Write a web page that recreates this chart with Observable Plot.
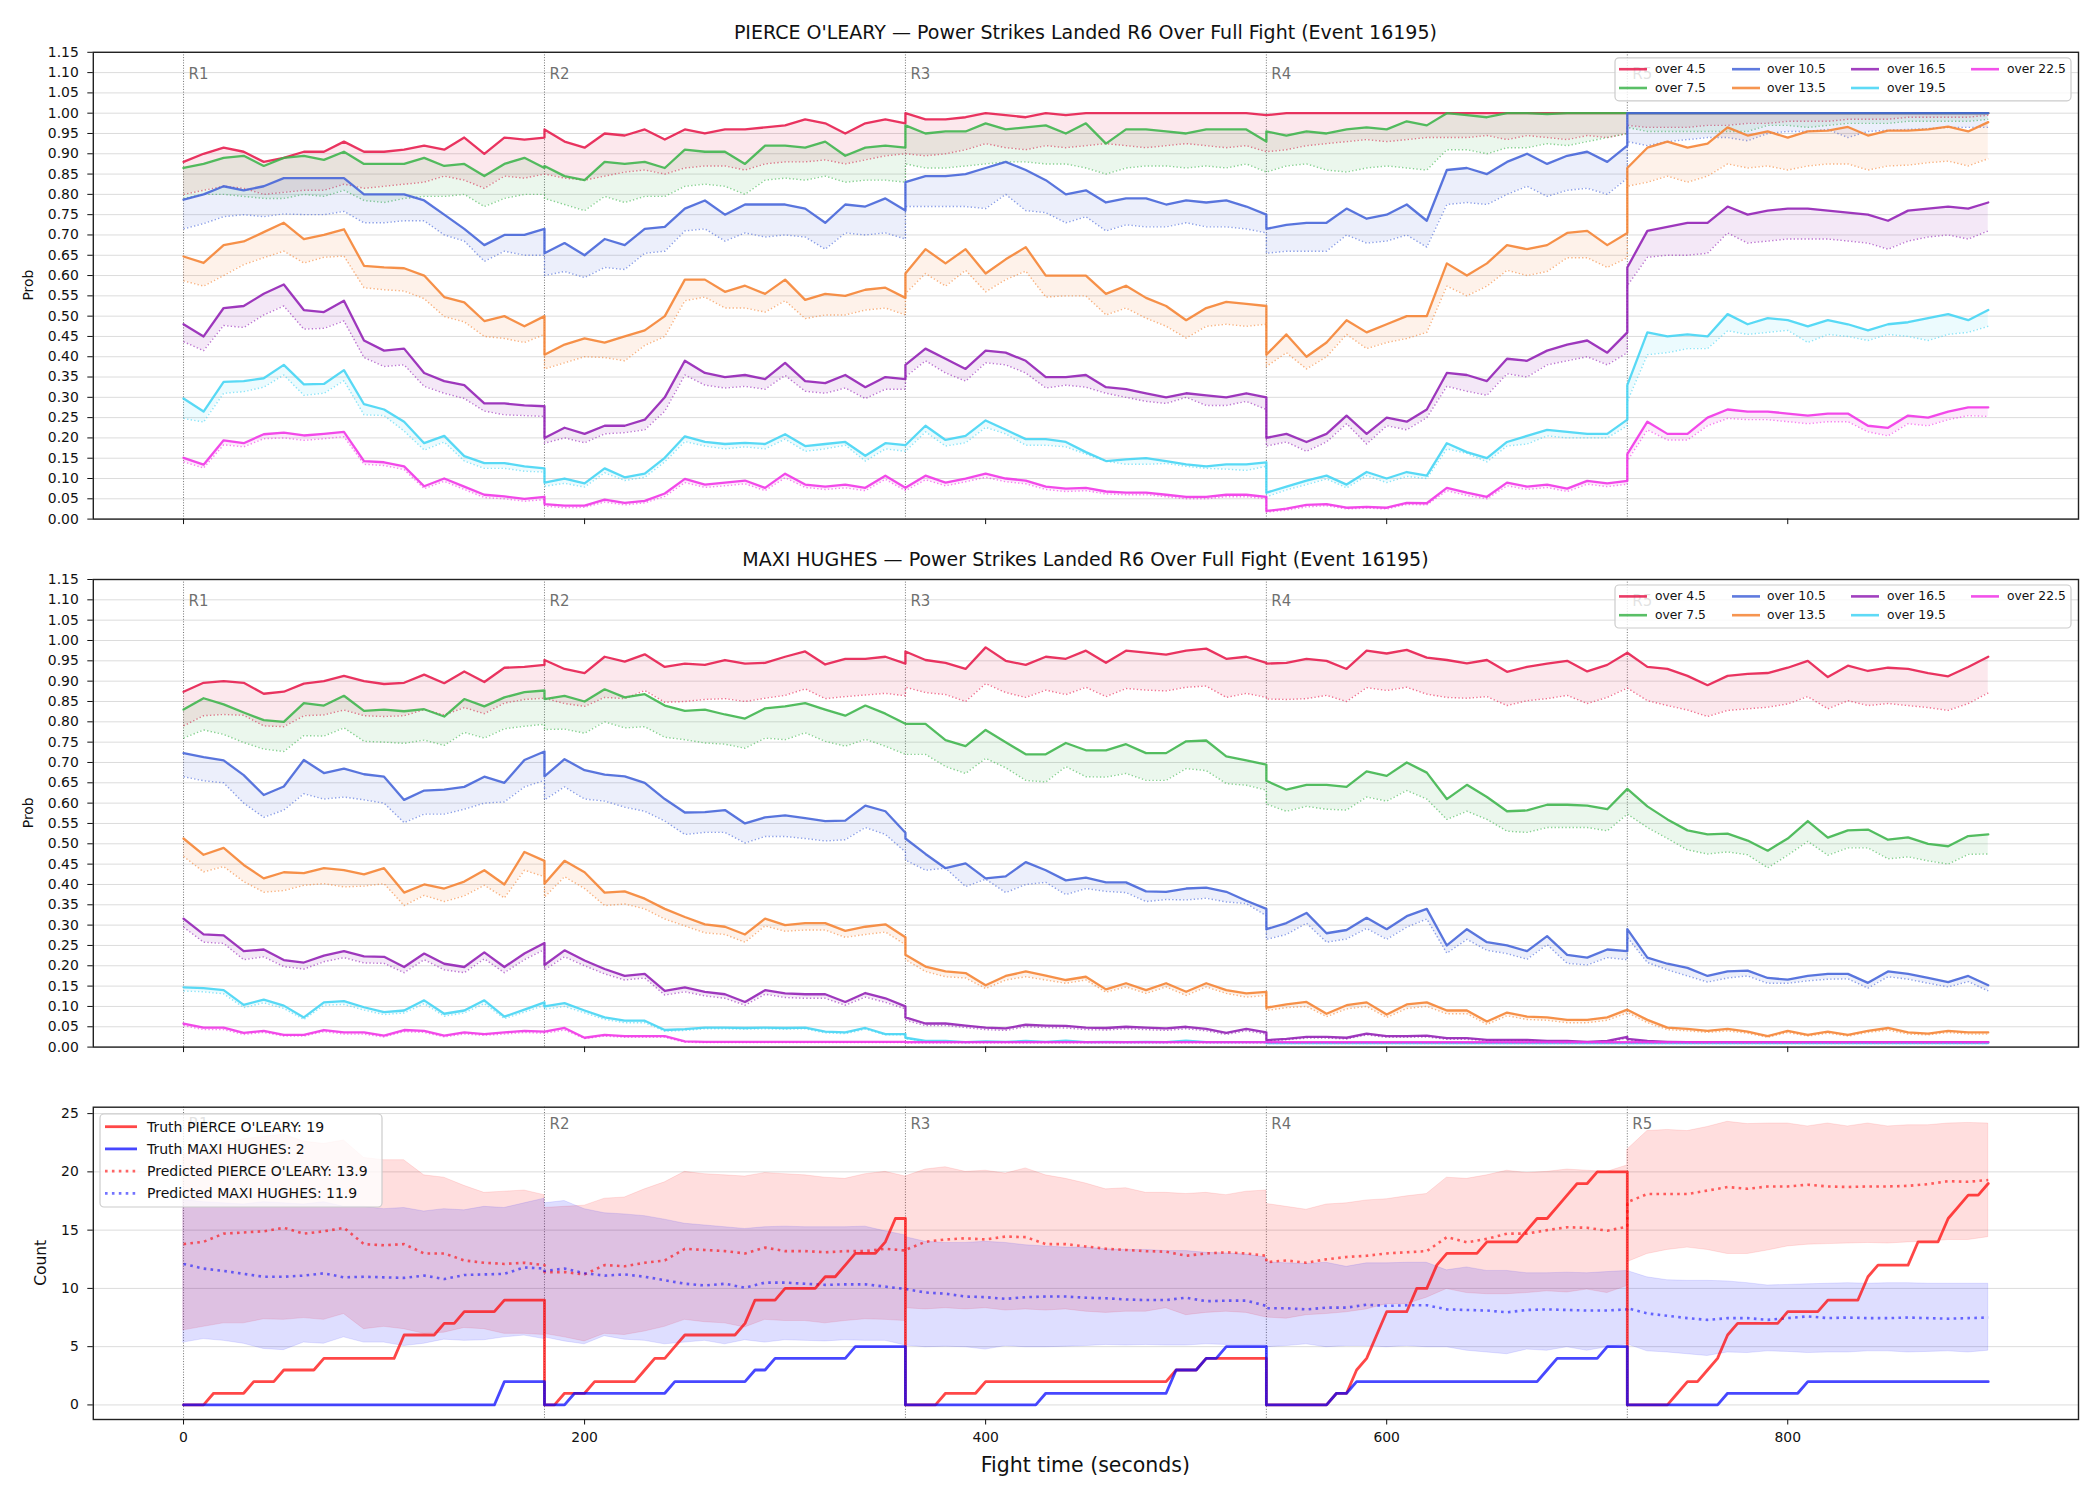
<!DOCTYPE html>
<html>
<head>
<meta charset="utf-8">
<script src="https://cdn.jsdelivr.net/npm/d3@7"></script>
<script src="https://cdn.jsdelivr.net/npm/@observablehq/plot@0.6"></script>
<style>
  body { margin: 0; background: #fff; }
  #chart { position: relative; width: 2100px; height: 1500px; font-family: "DejaVu Sans", sans-serif; }
  #chart svg { position: absolute; left: 0; }
</style>
</head>
<body>
<div id="chart"></div>
<script>
// ---------- categories, ticks, colours ----------
const roundStarts = [0, 180, 360, 540, 720];
const roundLabels = ["R1", "R2", "R3", "R4", "R5"];
const thresholds = ["over 4.5", "over 7.5", "over 10.5", "over 13.5", "over 16.5", "over 19.5", "over 22.5"];
const thresholdColors = ["#e6194b", "#3cb44b", "#4363d8", "#f58231", "#911eb4", "#42d4f4", "#f032e6"];
const timeTicks = [0, 200, 400, 600, 800];
const probTicks = [0, 0.05, 0.1, 0.15, 0.2, 0.25, 0.3, 0.35, 0.4, 0.45, 0.5, 0.55, 0.6, 0.65, 0.7, 0.75, 0.8, 0.85, 0.9, 0.95, 1, 1.05, 1.1, 1.15];
const countTicks = [0, 5, 10, 15, 20, 25];

// Sampling grids: every round is sampled from its first to its last second,
// so each round boundary appears twice (end of one round, start of the next).
const tenSecondGrid = roundStarts.flatMap(r => d3.range(0, 181, 10).map(s => r + s));
const fiveSecondGrid = roundStarts.flatMap(r => d3.range(0, 181, 5).map(s => r + s));

// ---------- PIERCE O'LEARY: live probabilities (solid) and pre-fight model (dotted) ----------
const olearyOver4_5 = [
 .88,.90,.915,.905,.88,.89,.905,.905,.93,.905,.905,.91,.92,.91,.94,.90,.94,.935,.94,
 .96,.93,.915,.95,.945,.96,.935,.96,.95,.96,.96,.965,.97,.985,.975,.95,.975,.985,.975,
 1,.985,.985,.99,1,.995,.99,1,.995,1,1,1,1,1,1,1,1,1,.995,
 .995,1,1,1,1,1,1,1,1,1,1,1,1,1,1,1,1,1,1,
 1,1,1,1,1,1,1,1,1,1,1,1,1,1,1,1,1,1,1];
const olearyOver4_5Pred = [
 .80,.81,.82,.815,.80,.805,.81,.81,.825,.815,.82,.825,.83,.845,.835,.815,.845,.84,.85,
 .85,.84,.835,.845,.855,.86,.85,.865,.87,.87,.86,.875,.88,.88,.885,.875,.885,.895,.90,
 .90,.895,.90,.91,.925,.915,.91,.92,.915,.92,.925,.92,.915,.92,.925,.92,.915,.92,.905,
 .905,.91,.92,.925,.93,.935,.93,.935,.94,.94,.94,.945,.935,.945,.94,.935,.945,.94,.95,
 .97,.965,.965,.965,.97,.97,.975,.975,.98,.98,.98,.985,.985,.985,.99,.99,.99,.99,.995];
const olearyOver7_5 = [
 .865,.875,.89,.895,.87,.89,.895,.885,.905,.875,.875,.875,.89,.87,.875,.845,.875,.89,.865,
 .87,.845,.835,.88,.875,.88,.865,.91,.905,.905,.875,.92,.92,.915,.93,.895,.915,.92,.915,
 .97,.95,.955,.955,.975,.96,.965,.97,.95,.975,.925,.96,.96,.955,.95,.96,.96,.96,.93,
 .955,.945,.955,.95,.96,.965,.96,.98,.97,1,.995,.99,1,1,.998,1,1,1,1,
 1,1,1,1,1,1,1,1,1,1,1,1,1,1,1,1,1,1,1];
const olearyOver7_5Pred = [
 .79,.80,.80,.795,.79,.79,.80,.795,.81,.785,.78,.79,.795,.795,.80,.77,.79,.80,.80,
 .79,.775,.76,.795,.78,.795,.795,.82,.825,.82,.80,.835,.84,.835,.845,.83,.835,.835,.83,
 .875,.865,.865,.87,.875,.88,.88,.875,.875,.865,.85,.865,.87,.87,.865,.87,.865,.875,.855,
 .855,.87,.875,.86,.855,.865,.87,.865,.86,.91,.91,.90,.915,.915,.925,.92,.93,.94,.95,
 .965,.955,.955,.955,.955,.955,.955,.97,.97,.965,.97,.975,.975,.975,.98,.98,.98,.98,.985];
const olearyOver10_5 = [
 .787,.80,.82,.81,.82,.84,.84,.84,.84,.80,.80,.80,.785,.75,.715,.675,.70,.70,.715,
 .655,.68,.65,.69,.675,.715,.72,.765,.785,.75,.775,.775,.775,.765,.73,.775,.77,.79,.76,
 .83,.845,.845,.85,.865,.88,.86,.835,.80,.81,.78,.79,.79,.775,.785,.78,.785,.77,.75,
 .715,.725,.73,.73,.765,.74,.75,.775,.735,.86,.865,.85,.88,.90,.875,.895,.905,.88,.92,
 1,1,1,1,1,1,1,1,1,1,1,1,1,1,1,1,1,1,1];
const olearyOver10_5Pred = [
 .715,.728,.745,.75,.745,.752,.75,.75,.758,.73,.73,.735,.735,.70,.685,.635,.66,.65,.65,
 .60,.61,.595,.62,.615,.655,.66,.71,.715,.685,.705,.695,.70,.695,.665,.705,.70,.705,.69,
 .77,.77,.77,.77,.765,.80,.76,.755,.73,.745,.71,.725,.72,.72,.73,.72,.72,.715,.705,
 .655,.66,.66,.66,.70,.68,.685,.70,.67,.775,.78,.775,.80,.82,.795,.81,.815,.80,.84,
 .93,.92,.93,.935,.94,.94,.932,.95,.955,.955,.96,.94,.955,.958,.96,.962,.965,.965,.965];
const olearyOver13_5 = [
 .647,.631,.675,.684,.707,.73,.69,.70,.714,.624,.62,.618,.60,.547,.534,.488,.50,.475,.50,
 .405,.43,.445,.435,.45,.465,.50,.59,.59,.56,.575,.555,.59,.54,.555,.55,.565,.57,.545,
 .605,.665,.63,.665,.605,.64,.67,.60,.60,.60,.555,.575,.545,.525,.49,.52,.535,.53,.525,
 .405,.455,.40,.435,.49,.46,.48,.50,.50,.63,.60,.63,.675,.665,.675,.705,.71,.675,.705,
 .865,.915,.93,.915,.925,.965,.945,.955,.94,.955,.957,.966,.945,.957,.957,.96,.967,.955,.978];
const olearyOver13_5Pred = [
 .587,.574,.60,.627,.644,.66,.631,.645,.648,.57,.565,.562,.543,.499,.486,.45,.445,.435,.455,
 .37,.385,.40,.398,.39,.428,.45,.538,.547,.52,.52,.51,.538,.494,.503,.503,.515,.52,.503,
 .556,.605,.574,.613,.56,.59,.611,.547,.55,.55,.503,.52,.495,.475,.446,.475,.48,.475,.48,
 .376,.41,.37,.40,.455,.42,.435,.445,.46,.574,.55,.574,.613,.60,.61,.644,.644,.62,.644,
 .82,.83,.845,.83,.845,.875,.865,.87,.86,.87,.875,.875,.86,.87,.872,.878,.882,.87,.888];
const olearyOver16_5 = [
 .48,.45,.52,.525,.555,.578,.515,.51,.538,.44,.415,.42,.36,.34,.33,.285,.285,.28,.278,
 .20,.225,.21,.23,.23,.245,.30,.39,.36,.35,.355,.345,.385,.34,.335,.355,.325,.35,.345,
 .38,.42,.395,.37,.415,.41,.39,.35,.35,.355,.325,.32,.31,.30,.31,.305,.30,.31,.30,
 .20,.21,.19,.21,.255,.21,.25,.24,.27,.36,.355,.34,.395,.39,.415,.43,.44,.41,.46,
 .62,.71,.72,.73,.73,.77,.75,.76,.765,.765,.76,.755,.75,.735,.76,.765,.77,.765,.78];
const olearyOver16_5Pred = [
 .437,.415,.477,.472,.503,.525,.468,.47,.488,.398,.376,.38,.327,.31,.297,.266,.257,.255,.253,
 .187,.20,.188,.21,.213,.22,.266,.355,.33,.323,.327,.32,.354,.315,.31,.323,.297,.32,.32,
 .35,.39,.36,.34,.385,.38,.36,.323,.33,.325,.31,.30,.29,.285,.30,.28,.28,.29,.27,
 .18,.19,.167,.19,.235,.185,.23,.22,.25,.327,.315,.305,.358,.35,.38,.39,.40,.38,.41,
 .575,.645,.65,.65,.655,.705,.68,.685,.69,.69,.69,.685,.68,.665,.685,.695,.70,.69,.71];
const olearyOver19_5 = [
 .297,.265,.338,.34,.347,.38,.332,.333,.367,.283,.27,.24,.187,.205,.155,.138,.138,.13,.125,
 .09,.10,.088,.125,.103,.112,.151,.204,.19,.185,.188,.185,.209,.18,.185,.19,.156,.187,.182,
 .182,.23,.195,.205,.243,.22,.197,.197,.19,.165,.143,.147,.15,.143,.135,.13,.135,.135,.14,
 .065,.08,.095,.107,.085,.116,.10,.116,.107,.187,.165,.15,.19,.205,.22,.215,.21,.21,.245,
 .33,.46,.45,.455,.45,.505,.48,.495,.49,.475,.49,.48,.465,.48,.485,.495,.505,.49,.515];
const olearyOver19_5Pred = [
 .248,.239,.31,.314,.325,.355,.305,.31,.341,.257,.255,.217,.17,.19,.143,.125,.125,.118,.116,
 .081,.088,.079,.114,.095,.103,.141,.191,.18,.173,.178,.173,.197,.167,.173,.182,.143,.173,.167,
 .167,.215,.18,.188,.226,.21,.182,.182,.178,.16,.143,.135,.135,.137,.13,.125,.123,.12,.13,
 .055,.072,.085,.099,.077,.107,.09,.105,.10,.173,.162,.141,.18,.185,.205,.20,.20,.20,.23,
 .29,.405,.41,.42,.42,.464,.455,.46,.465,.435,.455,.45,.44,.455,.45,.44,.455,.46,.475];
const olearyOver22_5 = [
 .151,.134,.194,.187,.209,.213,.206,.21,.215,.143,.14,.13,.081,.10,.08,.06,.056,.05,.055,
 .037,.033,.033,.048,.04,.045,.063,.099,.085,.09,.095,.077,.112,.085,.08,.085,.077,.107,.077,
 .077,.107,.09,.10,.112,.10,.095,.08,.075,.077,.068,.065,.065,.06,.055,.055,.06,.06,.055,
 .02,.026,.035,.037,.028,.03,.028,.04,.039,.077,.065,.055,.09,.08,.085,.075,.094,.088,.094,
 .16,.24,.21,.21,.25,.27,.265,.265,.26,.255,.26,.26,.23,.225,.255,.25,.265,.275,.275];
const olearyOver22_5Pred = [
 .141,.126,.183,.178,.198,.20,.194,.198,.203,.135,.132,.122,.075,.093,.073,.053,.05,.044,.048,
 .032,.028,.029,.042,.035,.04,.056,.09,.078,.082,.087,.07,.102,.078,.073,.077,.07,.098,.07,
 .07,.097,.082,.092,.103,.092,.087,.073,.068,.07,.062,.06,.06,.055,.05,.05,.055,.055,.05,
 .017,.022,.03,.033,.025,.027,.025,.036,.035,.07,.058,.05,.082,.073,.078,.068,.086,.08,.086,
 .143,.22,.195,.195,.23,.248,.245,.245,.24,.235,.24,.24,.215,.205,.235,.23,.245,.255,.253];

// ---------- MAXI HUGHES: live probabilities (solid) and pre-fight model (dotted) ----------
const hughesOver4_5 = [
 .874,.896,.90,.896,.869,.874,.894,.90,.913,.90,.893,.896,.916,.895,.924,.898,.933,.935,.94,
 .952,.93,.92,.96,.948,.966,.935,.943,.94,.952,.943,.945,.96,.973,.941,.955,.955,.96,.943,
 .973,.952,.945,.93,.983,.95,.94,.96,.955,.975,.945,.975,.97,.965,.975,.98,.955,.96,.945,
 .943,.945,.955,.95,.93,.975,.968,.977,.958,.952,.944,.952,.923,.935,.943,.95,.924,.94,.97,
 .97,.935,.93,.913,.89,.913,.918,.92,.933,.95,.91,.938,.925,.933,.93,.92,.912,.935,.96];
const hughesOver4_5Pred = [
 .79,.815,.818,.816,.79,.788,.815,.817,.829,.815,.813,.815,.83,.817,.835,.82,.846,.855,.858,
 .858,.845,.838,.86,.857,.877,.848,.85,.855,.857,.85,.858,.865,.881,.857,.862,.866,.87,.864,
 .885,.872,.867,.85,.894,.872,.86,.878,.867,.885,.862,.882,.878,.876,.885,.888,.86,.87,.86,
 .856,.855,.857,.865,.85,.884,.877,.885,.868,.86,.858,.862,.84,.852,.857,.865,.845,.86,.883,
 .883,.852,.84,.829,.813,.828,.832,.836,.844,.862,.832,.852,.84,.845,.84,.835,.828,.845,.871];
const hughesOver7_5 = [
 .83,.858,.843,.823,.804,.80,.846,.84,.864,.827,.83,.826,.831,.813,.856,.838,.86,.873,.877,
 .856,.864,.85,.88,.86,.868,.84,.827,.83,.818,.808,.833,.838,.846,.83,.815,.84,.82,.795,
 .795,.795,.755,.74,.78,.75,.72,.72,.748,.73,.73,.745,.723,.723,.752,.754,.715,.705,.695,
 .655,.633,.645,.645,.64,.678,.667,.70,.675,.61,.645,.615,.58,.582,.596,.596,.594,.585,.635,
 .635,.592,.56,.533,.523,.525,.508,.483,.513,.556,.515,.533,.535,.51,.516,.50,.494,.519,.523];
const hughesOver7_5Pred = [
 .76,.78,.769,.749,.733,.727,.766,.765,.785,.752,.75,.747,.755,.742,.774,.76,.783,.789,.794,
 .781,.782,.772,.80,.785,.788,.762,.756,.748,.745,.735,.76,.756,.773,.752,.74,.757,.74,.72,
 .72,.72,.69,.673,.71,.687,.656,.652,.69,.665,.664,.673,.656,.656,.685,.68,.648,.644,.632,
 .598,.58,.592,.585,.583,.615,.605,.631,.61,.56,.58,.56,.531,.528,.54,.54,.54,.532,.573,
 .573,.54,.513,.485,.475,.48,.473,.441,.472,.506,.472,.49,.49,.463,.468,.458,.45,.474,.475];
const hughesOver10_5 = [
 .723,.713,.705,.669,.62,.641,.706,.674,.685,.671,.665,.608,.631,.633,.64,.665,.65,.706,.727,
 .666,.708,.681,.67,.666,.65,.61,.577,.578,.583,.55,.565,.57,.563,.556,.557,.594,.58,.527,
 .513,.475,.44,.452,.415,.42,.455,.435,.41,.417,.405,.405,.383,.382,.39,.392,.382,.36,.34,
 .29,.305,.33,.28,.288,.318,.29,.322,.34,.25,.29,.258,.25,.236,.273,.227,.22,.24,.236,
 .29,.22,.205,.195,.175,.186,.188,.17,.166,.175,.18,.18,.158,.186,.18,.17,.16,.175,.152];
const hughesOver10_5Pred = [
 .665,.655,.65,.60,.565,.583,.623,.61,.615,.608,.60,.552,.573,.573,.585,.60,.603,.64,.656,
 .608,.64,.61,.605,.59,.58,.556,.523,.528,.528,.502,.518,.518,.513,.507,.51,.54,.523,.48,
 .46,.435,.44,.395,.413,.38,.40,.405,.375,.39,.383,.38,.358,.363,.362,.366,.357,.353,.323,
 .265,.277,.305,.258,.266,.292,.265,.295,.315,.231,.265,.238,.23,.216,.252,.206,.202,.22,.215,
 .27,.208,.19,.175,.16,.17,.175,.157,.157,.163,.167,.168,.145,.173,.167,.157,.148,.161,.138];
const hughesOver13_5 = [
 .513,.473,.49,.448,.415,.43,.428,.44,.435,.425,.44,.38,.40,.39,.407,.435,.40,.48,.458,
 .402,.458,.43,.38,.383,.365,.34,.32,.302,.296,.277,.316,.30,.305,.305,.286,.296,.302,.27,
 .227,.198,.186,.182,.152,.175,.186,.176,.165,.173,.142,.157,.14,.157,.136,.157,.14,.132,.136,
 .097,.105,.111,.082,.103,.11,.08,.105,.11,.09,.09,.063,.085,.075,.073,.067,.067,.073,.092,
 .092,.067,.048,.045,.04,.045,.038,.027,.04,.03,.038,.03,.04,.047,.036,.033,.04,.036,.036];
const hughesOver13_5Pred = [
 .469,.431,.444,.407,.381,.385,.398,.402,.394,.396,.402,.348,.373,.358,.372,.398,.367,.435,.419,
 .369,.419,.39,.348,.352,.34,.315,.298,.281,.277,.258,.298,.285,.288,.288,.27,.277,.283,.252,
 .215,.186,.173,.17,.144,.165,.173,.165,.157,.165,.135,.148,.132,.148,.127,.148,.132,.123,.127,
 .09,.097,.10,.075,.094,.10,.073,.095,.10,.082,.082,.056,.077,.068,.066,.06,.06,.066,.084,
 .085,.06,.043,.04,.036,.04,.034,.024,.036,.027,.034,.027,.036,.042,.032,.03,.036,.032,.032];
const hughesOver16_5 = [
 .316,.277,.275,.236,.24,.214,.208,.225,.236,.223,.222,.197,.23,.205,.197,.233,.197,.23,.256,
 .202,.238,.213,.192,.175,.18,.138,.147,.136,.13,.111,.14,.132,.13,.13,.111,.133,.12,.10,
 .073,.058,.058,.053,.048,.046,.055,.053,.052,.048,.047,.05,.048,.046,.05,.045,.035,.045,.036,
 .017,.02,.025,.025,.023,.033,.027,.027,.028,.022,.022,.018,.018,.018,.015,.015,.013,.015,.025,
 .02,.015,.013,.012,.012,.012,.012,.012,.012,.012,.012,.012,.012,.012,.012,.012,.012,.012,.012];
const hughesOver16_5Pred = [
 .295,.258,.255,.215,.222,.198,.192,.21,.22,.207,.206,.183,.215,.19,.183,.217,.183,.215,.24,
 .19,.222,.20,.18,.165,.17,.128,.136,.126,.12,.103,.13,.122,.12,.12,.103,.123,.11,.094,
 .066,.053,.053,.048,.043,.041,.05,.048,.047,.043,.042,.045,.043,.041,.045,.04,.031,.04,.032,
 .015,.018,.022,.022,.02,.03,.024,.024,.025,.019,.019,.016,.016,.016,.013,.013,.011,.013,.022,
 .018,.013,.011,.01,.01,.01,.01,.01,.01,.01,.01,.01,.01,.01,.01,.01,.01,.01,.01];
const hughesOver19_5 = [
 .147,.145,.14,.104,.117,.102,.073,.11,.113,.098,.086,.09,.115,.082,.09,.115,.075,.092,.11,
 .10,.108,.09,.073,.065,.065,.042,.044,.048,.048,.047,.048,.047,.048,.038,.036,.047,.032,.032,
 .023,.015,.015,.012,.014,.013,.015,.013,.016,.012,.013,.012,.013,.012,.016,.012,.012,.012,.012,
 .01,.01,.01,.01,.01,.01,.01,.01,.01,.01,.01,.01,.01,.01,.01,.01,.01,.01,.01,
 .01,.01,.01,.01,.01,.01,.01,.01,.01,.01,.01,.01,.01,.01,.01,.01,.01,.01,.01];
const hughesOver19_5Pred = [
 .138,.136,.131,.097,.109,.095,.068,.103,.105,.091,.08,.084,.107,.076,.084,.107,.07,.086,.103,
 .093,.10,.084,.068,.06,.06,.039,.041,.045,.045,.044,.045,.044,.045,.035,.033,.044,.03,.03,
 .021,.014,.014,.011,.013,.012,.014,.012,.014,.011,.012,.011,.012,.011,.014,.011,.011,.011,.011,
 .009,.009,.009,.009,.009,.009,.009,.009,.009,.009,.009,.009,.009,.009,.009,.009,.009,.009,.009,
 .009,.009,.009,.009,.009,.009,.009,.009,.009,.009,.009,.009,.009,.009,.009,.009,.009,.009,.009];
const hughesOver22_5 = [
 .058,.048,.048,.035,.04,.03,.03,.042,.036,.036,.028,.042,.04,.028,.036,.032,.036,.04,.038,
 .038,.047,.023,.03,.027,.027,.027,.014,.013,.013,.013,.013,.013,.013,.013,.013,.013,.013,.013,
 .012,.012,.012,.012,.012,.012,.012,.012,.012,.012,.012,.012,.012,.012,.012,.012,.012,.012,.012,
 .012,.012,.012,.012,.012,.012,.012,.012,.012,.012,.012,.012,.012,.012,.012,.012,.012,.012,.012,
 .012,.012,.012,.012,.012,.012,.012,.012,.012,.012,.012,.012,.012,.012,.012,.012,.012,.012,.012];
const hughesOver22_5Pred = [
 .053,.043,.043,.031,.036,.027,.027,.038,.032,.032,.025,.038,.036,.025,.032,.029,.032,.036,.034,
 .034,.042,.021,.027,.024,.024,.024,.012,.011,.011,.011,.011,.011,.011,.011,.011,.011,.011,.011,
 .01,.01,.01,.01,.01,.01,.01,.01,.01,.01,.01,.01,.01,.01,.01,.01,.01,.01,.01,
 .01,.01,.01,.01,.01,.01,.01,.01,.01,.01,.01,.01,.01,.01,.01,.01,.01,.01,.01,
 .01,.01,.01,.01,.01,.01,.01,.01,.01,.01,.01,.01,.01,.01,.01,.01,.01,.01,.01];

// ---------- Running counts within each round (5-second grid) ----------
const truthOleary = [
 0,0,0,1,1,1,1,2,2,2,3,3,3,3,4,4,4,4,4,4,4,4,6,6,6,6,7,7,8,8,8,8,9,9,9,9,9,
 0,0,1,1,1,2,2,2,2,2,3,4,4,5,6,6,6,6,6,6,7,9,9,9,10,10,10,10,11,11,12,13,13,13,14,16,16,
 0,0,0,0,1,1,1,1,2,2,2,2,2,2,2,2,2,2,2,2,2,2,2,2,2,2,2,3,3,3,4,4,4,4,4,4,4,
 0,0,0,0,0,0,0,1,1,3,4,6,8,8,8,10,10,12,13,13,13,13,14,14,14,14,15,16,16,17,18,19,19,20,20,20,20,
 0,0,0,0,0,1,2,2,3,4,6,7,7,7,7,7,8,8,8,8,9,9,9,9,11,12,12,12,12,14,14,14,16,17,18,18,19];
const truthHughes = [
 0,0,0,0,0,0,0,0,0,0,0,0,0,0,0,0,0,0,0,0,0,0,0,0,0,0,0,0,0,0,0,0,2,2,2,2,2,
 0,0,0,1,1,1,1,1,1,1,1,1,1,2,2,2,2,2,2,2,2,3,3,4,4,4,4,4,4,4,4,5,5,5,5,5,5,
 0,0,0,0,0,0,0,0,0,0,0,0,0,0,1,1,1,1,1,1,1,1,1,1,1,1,1,3,3,3,4,4,5,5,5,5,5,
 0,0,0,0,0,0,0,1,1,2,2,2,2,2,2,2,2,2,2,2,2,2,2,2,2,2,2,2,3,4,4,4,4,4,5,5,5,
 0,0,0,0,0,0,0,0,0,0,1,1,1,1,1,1,1,1,2,2,2,2,2,2,2,2,2,2,2,2,2,2,2,2,2,2,2];

// ---------- Predicted final counts with bands (10-second grid) ----------
const predOleary = [
 13.8,14.0,14.7,14.8,14.9,15.2,14.7,14.9,15.2,13.8,13.7,13.8,13.0,13.0,12.4,12.2,12.1,12.2,12.0,
 11.4,11.4,11.2,12.0,11.9,12.2,12.4,13.4,13.3,13.2,13.0,13.5,13.2,13.2,13.1,13.2,13.2,13.4,13.25,
 13.3,14.0,14.2,14.3,14.2,14.45,14.4,13.8,13.8,13.6,13.4,13.3,13.2,13.15,12.8,13.0,13.1,13.0,12.8,
 12.25,12.4,12.2,12.5,12.7,12.8,13.0,13.1,13.2,14.4,13.95,14.25,14.7,14.7,15.0,15.25,15.2,14.95,15.3,
 17.4,18.1,18.1,18.1,18.4,18.7,18.55,18.75,18.75,18.9,18.75,18.7,18.75,18.75,18.8,18.95,19.2,19.15,19.3];
const predHughes = [
 12.1,11.7,11.5,11.25,11.0,11.0,11.1,11.3,10.95,11.0,10.95,10.9,11.1,10.8,11.15,11.2,11.25,11.8,11.7,
 11.5,11.7,11.3,11.1,11.2,11.0,10.7,10.4,10.25,10.4,10.05,10.5,10.5,10.4,10.3,10.35,10.35,10.15,9.95,
 9.95,9.65,9.55,9.3,9.25,9.1,9.25,9.3,9.3,9.2,9.15,9.05,9.0,9.0,9.2,8.9,8.95,8.95,8.5,
 8.3,8.3,8.2,8.35,8.35,8.6,8.5,8.55,8.55,8.2,8.15,8.1,7.95,8.15,8.2,8.15,8.1,8.1,8.2,
 8.3,7.85,7.65,7.45,7.3,7.45,7.45,7.3,7.45,7.6,7.45,7.5,7.45,7.45,7.5,7.45,7.4,7.45,7.5];
const olearyBandHigh = [
 21.5,21.8,22.5,22.8,23.0,23.2,22.6,22.4,22.7,21.2,21.0,21.0,19.7,19.5,18.8,18.2,18.3,18.4,18.0,
 16.9,17.0,17.1,17.7,17.8,18.5,19.1,20.0,19.8,19.7,19.6,19.9,19.8,19.7,19.5,19.4,19.8,20.0,19.6,
 19.6,20.2,20.4,20.0,20.1,19.85,20.3,19.7,19.4,19.0,18.5,18.6,18.2,18.2,18.1,18.2,18.0,18.3,18.4,
 17.25,17.0,16.75,17.2,17.3,17.55,17.65,17.9,18.1,19.5,19.4,19.7,20.1,19.9,20.0,20.2,20.1,20.0,20.55,
 21.9,23.5,23.6,23.5,23.85,24.3,24.1,24.15,24.15,23.9,24.15,23.9,24.15,23.9,24.0,24.0,24.15,24.2,24.15];
const olearyBandLow = [
 6.4,6.7,7.0,7.0,7.35,7.3,7.45,7.3,7.8,6.5,6.7,6.5,6.1,6.2,6.6,6.5,6.1,6.1,6.0,
 6.1,5.8,5.45,6.1,6.0,6.3,6.7,7.3,7.1,7.0,6.65,7.3,7.2,7.2,7.0,7.2,7.35,7.3,7.2,
 8.3,8.2,8.3,8.2,8.3,8.1,8.2,8.1,8.2,8.0,7.9,8.0,8.0,8.3,7.7,7.9,8.0,7.9,7.5,
 7.5,7.4,7.7,7.8,7.95,8.2,8.65,8.65,9.2,9.95,9.6,9.5,9.5,9.6,9.75,9.65,9.9,9.6,10.2,
 12.25,12.95,13.3,13.5,13.3,12.95,12.95,13.25,13.6,13.75,13.8,13.85,13.9,13.85,13.95,14.0,14.15,14.15,14.4];
const hughesBandHigh = [
 17.6,17.4,17.3,17.2,17.4,17.3,17.2,17.4,17.0,17.0,16.8,16.9,16.6,16.8,16.7,17.0,16.9,17.3,17.7,
 17.3,17.5,16.8,16.45,16.35,16.2,15.9,15.55,15.4,15.25,15.1,15.25,15.3,15.25,15.25,15.25,15.3,14.9,14.55,
 14.4,14.0,13.9,13.9,14.0,13.9,13.7,13.6,13.5,13.5,13.35,13.3,13.3,13.2,13.2,13.05,13.0,12.9,12.65,
 12.25,12.15,12.1,12.2,11.85,12.15,12.15,12.2,12.2,11.55,11.8,11.5,11.5,11.3,11.3,11.35,11.3,11.4,11.5,
 11.5,10.95,10.7,10.65,10.65,10.6,10.45,10.25,10.3,10.35,10.4,10.45,10.4,10.45,10.45,10.4,10.4,10.4,10.4];
const hughesBandLow = [
 5.35,5.65,5.5,5.25,4.8,4.7,5.35,5.25,5.8,5.35,5.35,5.05,5.25,5.6,5.5,5.55,5.8,5.95,5.65,
 5.8,5.45,5.2,5.9,5.6,5.5,5.2,5.35,5.5,5.2,5.55,5.35,5.55,5.5,5.45,5.55,5.5,5.5,5.1,
 5.1,4.95,5.0,4.95,4.75,5.05,4.95,4.95,5.0,5.05,5.15,5.1,5.15,5.1,5.1,5.2,5.15,5.1,5.1,
 4.95,5.05,5.2,4.95,5.05,5.05,4.95,5.05,4.95,4.95,4.65,4.5,4.35,4.75,4.65,4.95,4.65,4.95,5.2,
 5.2,4.6,4.5,4.35,4.2,4.5,4.45,4.6,4.55,4.45,4.5,4.5,4.6,4.6,4.5,4.55,4.6,4.5,4.65];

// ---------- assemble ----------
const olearySeries = [
  [olearyOver4_5, olearyOver4_5Pred], [olearyOver7_5, olearyOver7_5Pred],
  [olearyOver10_5, olearyOver10_5Pred], [olearyOver13_5, olearyOver13_5Pred],
  [olearyOver16_5, olearyOver16_5Pred], [olearyOver19_5, olearyOver19_5Pred],
  [olearyOver22_5, olearyOver22_5Pred]];
const hughesSeries = [
  [hughesOver4_5, hughesOver4_5Pred], [hughesOver7_5, hughesOver7_5Pred],
  [hughesOver10_5, hughesOver10_5Pred], [hughesOver13_5, hughesOver13_5Pred],
  [hughesOver16_5, hughesOver16_5Pred], [hughesOver19_5, hughesOver19_5Pred],
  [hughesOver22_5, hughesOver22_5Pred]];

function checkLength(label, arr, grid) {
  if (arr.length !== grid.length) throw new Error(`${label}: ${arr.length} values, expected ${grid.length}`);
}
olearySeries.forEach(([a, p], k) => { checkLength("oleary " + thresholds[k], a, tenSecondGrid); checkLength("oleary pred " + thresholds[k], p, tenSecondGrid); });
hughesSeries.forEach(([a, p], k) => { checkLength("hughes " + thresholds[k], a, tenSecondGrid); checkLength("hughes pred " + thresholds[k], p, tenSecondGrid); });
checkLength("truthOleary", truthOleary, fiveSecondGrid);
checkLength("truthHughes", truthHughes, fiveSecondGrid);
[["predOleary", predOleary], ["predHughes", predHughes], ["olearyBandHigh", olearyBandHigh],
 ["olearyBandLow", olearyBandLow], ["hughesBandHigh", hughesBandHigh], ["hughesBandLow", hughesBandLow]]
  .forEach(([n, a]) => checkLength(n, a, tenSecondGrid));

// ---------- layout ----------
const W = 2100, ML = 92.8, MR = 22;
const frameLeft = ML, frameRight = W - MR, frameMid = (frameLeft + frameRight) / 2;
const xDomain = [-45, 945];
const font = '"DejaVu Sans", sans-serif';
const chart = document.getElementById("chart");
const dotted = {strokeLinecap: "butt"};

function roundMarks(dy) {
  return [
    Plot.text(roundStarts, {x: d => d, text: (d, i) => roundLabels[i], frameAnchor: "top",
      textAnchor: "start", lineAnchor: "top", dx: 5, dy, fill: "#555", fillOpacity: 0.85, fontSize: 15})
  ];
}

function addText(svg, {x, y, text, size, anchor = "middle", rotate = 0}) {
  d3.select(svg).append("text")
    .attr("transform", `translate(${x},${y}) rotate(${rotate})`)
    .attr("text-anchor", anchor).attr("dominant-baseline", "central")
    .attr("font-family", font).attr("font-size", size)
    .attr("fill", "#111").text(text);
}

function thresholdLegend(svg, frameTop) {
  const g = d3.select(svg).append("g").attr("font-family", font).attr("font-size", 12.3).attr("text-anchor", "start");
  g.append("rect").attr("x", 1615).attr("y", frameTop + 6).attr("width", 456).attr("height", 43)
    .attr("rx", 4).attr("fill", "white").attr("fill-opacity", 0.8).attr("stroke", "#cccccc").attr("stroke-width", 1.2);
  const handleX = [1619, 1732, 1851, 1971], labelX = [1655, 1767, 1887, 2007];
  const rowY = [frameTop + 17.4, frameTop + 36.2];
  thresholds.forEach((name, k) => {
    const col = Math.floor(k / 2), row = k % 2;
    g.append("line").attr("x1", handleX[col]).attr("x2", handleX[col] + 28)
      .attr("y1", rowY[row]).attr("y2", rowY[row])
      .attr("stroke", thresholdColors[k]).attr("stroke-opacity", 0.85).attr("stroke-width", 2.6);
    g.append("text").attr("x", labelX[col]).attr("y", rowY[row]).attr("dominant-baseline", "central")
      .attr("text-anchor", "start").attr("fill", "#111").text(name);
  });
}

function probabilityPanel(series, {top, height, marginTop, marginBottom, title}) {
  const marks = [
    Plot.gridY({ticks: probTicks, stroke: "#dcdcdc", strokeOpacity: 1, strokeWidth: 1}),
    Plot.ruleX(roundStarts, {stroke: "#444", strokeOpacity: 0.75, strokeWidth: 1, strokeDasharray: "1,1.65", ...dotted})
  ];
  series.forEach(([actual, pred], k) => {
    const data = tenSecondGrid.map((t, i) => ({t, actual: actual[i], pred: pred[i]}));
    const color = thresholdColors[k];
    marks.push(Plot.areaY(data, {x: "t", y1: "pred", y2: "actual", fill: color, fillOpacity: 0.1}));
    marks.push(Plot.line(data, {x: "t", y: "pred", stroke: color, strokeOpacity: 0.6, strokeWidth: 1.4, strokeDasharray: "1.4,2.2", ...dotted}));
    marks.push(Plot.line(data, {x: "t", y: "actual", stroke: color, strokeOpacity: 0.88, strokeWidth: 2.3}));
  });
  marks.push(...roundMarks(16));
  marks.push(Plot.frame({stroke: "#222", strokeWidth: 1.4}));
  marks.push(Plot.axisY({ticks: probTicks, tickFormat: d3.format(".2f"), tickSize: 5.5, tickPadding: 9, label: null}));
  marks.push(Plot.axisX({ticks: timeTicks, tickFormat: () => "", tickSize: 5.5, label: null}));

  const svg = Plot.plot({
    width: W, height, marginTop, marginBottom, marginLeft: ML, marginRight: MR,
    style: {fontFamily: font, fontSize: "13.9px", background: "transparent", overflow: "visible", color: "#111"},
    x: {domain: xDomain}, y: {domain: [0, 1.15]},
    marks
  });
  svg.style.top = top + "px";
  chart.appendChild(svg);
  addText(svg, {x: frameMid, y: marginTop - 20.2, text: title, size: 19});
  addText(svg, {x: 27.5, y: marginTop + (height - marginTop - marginBottom) / 2, text: "Prob", size: 13.9, rotate: -90});
  thresholdLegend(svg, marginTop);
}

probabilityPanel(olearySeries, {top: 0, height: 545, marginTop: 51.8, marginBottom: 26.4,
  title: "PIERCE O'LEARY \u2014 Power Strikes Landed R6 Over Full Fight (Event 16195)"});
probabilityPanel(hughesSeries, {top: 545, height: 530, marginTop: 34, marginBottom: 28.4,
  title: "MAXI HUGHES \u2014 Power Strikes Landed R6 Over Full Fight (Event 16195)"});

// ---------- count panel ----------
(function countPanel() {
  const top = 1075, height = 425, marginTop = 31.7, marginBottom = 81;
  const bands = tenSecondGrid.map((t, i) => ({
    t, oHi: olearyBandHigh[i], oLo: olearyBandLow[i], hHi: hughesBandHigh[i], hLo: hughesBandLow[i],
    oPred: predOleary[i], hPred: predHughes[i]
  }));
  const truth = fiveSecondGrid.map((t, i) => ({t, o: truthOleary[i], h: truthHughes[i]}));

  const svg = Plot.plot({
    width: W, height, marginTop, marginBottom, marginLeft: ML, marginRight: MR,
    style: {fontFamily: font, fontSize: "13.9px", background: "transparent", overflow: "visible", color: "#111"},
    x: {domain: xDomain}, y: {domain: [-1.25, 25.55]},
    marks: [
      Plot.gridY({ticks: countTicks, stroke: "#dcdcdc", strokeOpacity: 1, strokeWidth: 1}),
      Plot.ruleX(roundStarts, {stroke: "#444", strokeOpacity: 0.75, strokeWidth: 1, strokeDasharray: "1,1.65", ...dotted}),
      Plot.areaY(bands, {x: "t", y1: "oLo", y2: "oHi", fill: "#ff0000", fillOpacity: 0.13, stroke: "#ff0000", strokeOpacity: 0.1, strokeWidth: 1}),
      Plot.areaY(bands, {x: "t", y1: "hLo", y2: "hHi", fill: "#0000ff", fillOpacity: 0.13, stroke: "#0000ff", strokeOpacity: 0.1, strokeWidth: 1}),
      Plot.line(bands, {x: "t", y: "oPred", stroke: "#ff0000", strokeOpacity: 0.6, strokeWidth: 2.6, strokeDasharray: "2.6,4.3", ...dotted}),
      Plot.line(bands, {x: "t", y: "hPred", stroke: "#0000ff", strokeOpacity: 0.55, strokeWidth: 2.6, strokeDasharray: "2.6,4.3", ...dotted}),
      Plot.line(truth, {x: "t", y: "o", stroke: "#ff0000", strokeOpacity: 0.72, strokeWidth: 2.8}),
      Plot.line(truth, {x: "t", y: "h", stroke: "#0000ff", strokeOpacity: 0.72, strokeWidth: 2.8}),
      ...roundMarks(11),
      Plot.frame({stroke: "#222", strokeWidth: 1.4}),
      Plot.axisY({ticks: countTicks, tickFormat: d => String(d), tickSize: 5.5, tickPadding: 9, label: null}),
      Plot.axisX({ticks: timeTicks, tickFormat: d => String(d), tickSize: 5.5, tickPadding: 7, label: null})
    ]
  });
  svg.style.top = top + "px";
  chart.appendChild(svg);
  addText(svg, {x: frameMid, y: 390, text: "Fight time (seconds)", size: 20.5});
  addText(svg, {x: 41, y: marginTop + (height - marginTop - marginBottom) / 2, text: "Count", size: 15.5, rotate: -90});

  // legend
  const g = d3.select(svg).append("g").attr("font-family", font).attr("font-size", 14).attr("text-anchor", "start");
  g.append("rect").attr("x", 100).attr("y", 39).attr("width", 282).attr("height", 93).attr("rx", 4)
    .attr("fill", "white").attr("fill-opacity", 0.8).attr("stroke", "#cccccc").attr("stroke-width", 1.2);
  const entries = [
    {label: "Truth PIERCE O'LEARY: 19", color: "#ff0000", dash: null, opacity: 0.72},
    {label: "Truth MAXI HUGHES: 2", color: "#0000ff", dash: null, opacity: 0.72},
    {label: "Predicted PIERCE O'LEARY: 13.9", color: "#ff0000", dash: "2.6,4.3", opacity: 0.6},
    {label: "Predicted MAXI HUGHES: 11.9", color: "#0000ff", dash: "2.6,4.3", opacity: 0.55}
  ];
  entries.forEach((e, i) => {
    const y = 51.7 + i * 22.2;
    const line = g.append("line").attr("x1", 105).attr("x2", 137).attr("y1", y).attr("y2", y)
      .attr("stroke", e.color).attr("stroke-opacity", e.opacity).attr("stroke-width", 2.8);
    if (e.dash) line.attr("stroke-dasharray", e.dash);
    g.append("text").attr("x", 147).attr("y", y).attr("dominant-baseline", "central")
      .attr("text-anchor", "start").attr("fill", "#111").text(e.label);
  });
})();
</script>
</body>
</html>
